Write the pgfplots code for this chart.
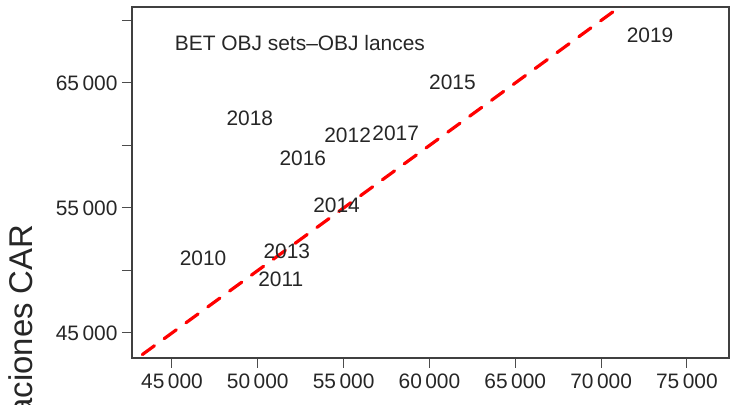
\documentclass[border=0pt]{standalone}
\usepackage{fontspec}
\setmainfont{Liberation Sans}
\usepackage{pgfplots}
\pgfplotsset{compat=1.18}

\pgfplotstableread{
x y lab
72855 68840 2019
61340 65080 2015
49534 62200 2018
55233 60840 2012
58030 61000 2017
52620 59000 2016
54590 55240 2014
51690 51560 2013
51340 49320 2011
46810 51000 2010
}\years

\begin{document}
\begin{tikzpicture}[x=1bp,y=1bp]
\begin{axis}[
  scale only axis, width=597bp, height=351bp,
  xmin=42670, xmax=77450, ymin=43000, ymax=71080,
  scaled ticks=false,
  xtick pos=bottom, ytick pos=left,
  xtick={45000,50000,...,75000},
  xticklabels={45\,000,50\,000,55\,000,60\,000,65\,000,70\,000,75\,000},
  ytick={45000,50000,...,70000},
  yticklabels={45\,000,,55\,000,,65\,000,},
  tick align=outside, major tick length=10bp,
  tick style={black!70, line width=1pt},
  axis line style={black!75, line width=1.2pt},
  ticklabel style={font=\fontsize{21}{25}\selectfont, text=black!85},
  xticklabel style={yshift=-2bp},
  yticklabel style={xshift=-1bp},
  clip mode=individual,
]
\addplot[red, line width=3.2pt, dash pattern=on 15bp off 12bp, line cap=round]
  coordinates {(42000,42000) (78000,78000)};
\addplot[only marks, mark=none, nodes near coords, point meta=explicit symbolic,
  nodes near coords style={anchor=center, font=\fontsize{21}{25}\selectfont, text=black!85}]
  table[x=x, y=y, meta=lab] {\years};
\node[anchor=west, font=\fontsize{21}{25}\selectfont, text=black!85]
  at (rel axis cs:0.066,0.897) {BET OBJ sets--OBJ lances};
\node[rotate=90, anchor=base east, font=\fontsize{33}{38}\selectfont, text=black!85]
  at (rel axis cs:-0.166,0.39) {aciones CAR};
\coordinate (bbl) at (rel axis cs:-0.2211,-0.1339);
\coordinate (btr) at (rel axis cs:1.0235,1.0199);
\end{axis}
\pgfresetboundingbox
\path[use as bounding box] (bbl) rectangle (btr);
\end{tikzpicture}
\end{document}
